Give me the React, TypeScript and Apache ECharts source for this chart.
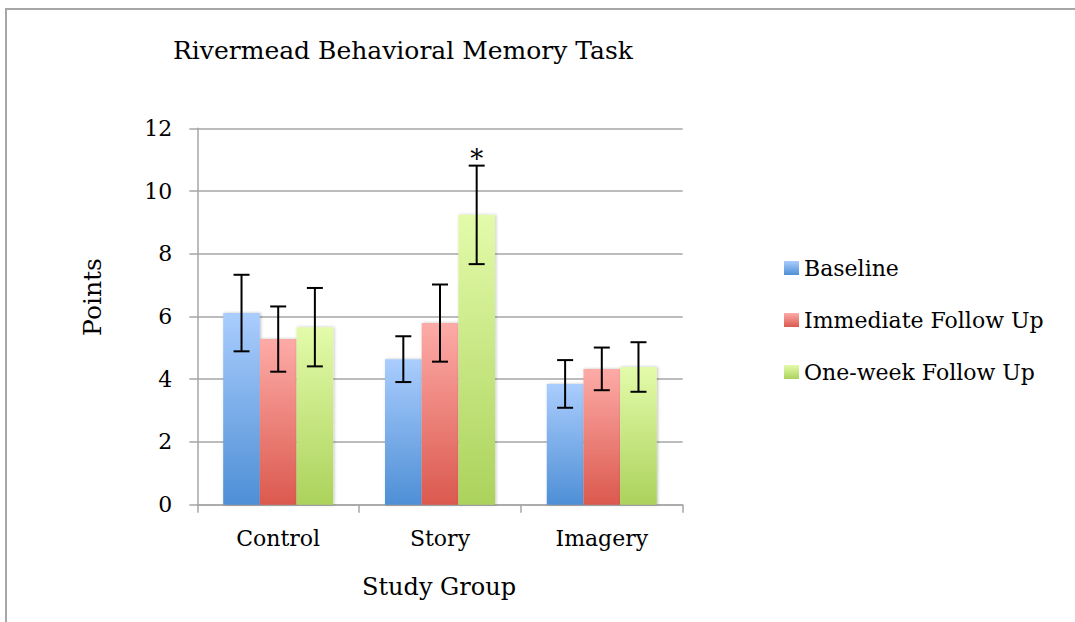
import React, { useEffect, useRef } from "react";
import * as echarts from "echarts";

const categories = ["Control", "Story", "Imagery"];
const seriesNames = ["Baseline", "Immediate Follow Up", "One-week Follow Up"];
const baseline = [6.11, 4.64, 3.85];
const immediate = [5.28, 5.79, 4.33];
const oneWeek = [5.66, 9.24, 4.39];
const baselineErr = [1.22, 0.73, 0.76];
const immediateErr = [1.04, 1.23, 0.68];
const oneWeekErr = [1.25, 1.57, 0.79];
const baselineMarks = ["", "", ""];
const immediateMarks = ["", "", ""];
const oneWeekMarks = ["", "*", ""];
const yTicks = [0, 2, 4, 6, 8, 10, 12];

const FONT = "DejaVu Serif";
const GRID_COLOR = "#a6a6a6";
const CAT_GAP = 0.32;

const gradients = [
  ["#aacdfd", "#4e8fd6"],
  ["#fdaba7", "#db594e"],
  ["#e3fbaa", "#acd25c"],
];

export default function App() {
  const ref = useRef<HTMLDivElement>(null);
  useEffect(() => {
    if (!ref.current) return;
    const chart = echarts.init(ref.current, null, { renderer: "svg" });
    const values = [baseline, immediate, oneWeek];
    const errs = [baselineErr, immediateErr, oneWeekErr];
    const marks = [baselineMarks, immediateMarks, oneWeekMarks];

    const barSeries = seriesNames.map((name, i) => ({
      type: "bar",
      name,
      data: values[i],
      barGap: "0%",
      barCategoryGap: CAT_GAP * 100 + "%",
      itemStyle: {
        color: new echarts.graphic.LinearGradient(0, 0, 0, 1, [
          { offset: 0, color: gradients[i][0] },
          { offset: 1, color: gradients[i][1] },
        ]),
        shadowBlur: 3,
        shadowColor: "rgba(0,0,0,0.25)",
        shadowOffsetX: 1,
        shadowOffsetY: 0,
      },
      z: 2,
    }));

    const errSeries = seriesNames.map((name, i) => ({
      type: "custom",
      name: name + " error",
      z: 5,
      data: values[i].map((v, k) => [k, v - errs[i][k], v + errs[i][k], marks[i][k]]),
      renderItem: (params: any, api: any) => {
        const cat = api.value(0);
        const lo = api.coord([cat, api.value(1)]);
        const hi = api.coord([cat, api.value(2)]);
        const catW = api.size([1, 0])[0];
        const barW = (catW * (1 - CAT_GAP)) / 3;
        const x = lo[0] + (i - 1) * barW;
        const cap = 8;
        const style = { stroke: "#000", lineWidth: 2 };
        const children: any[] = [
          { type: "line", shape: { x1: x, y1: lo[1], x2: x, y2: hi[1] }, style },
          { type: "line", shape: { x1: x - cap, y1: lo[1], x2: x + cap, y2: lo[1] }, style },
          { type: "line", shape: { x1: x - cap, y1: hi[1], x2: x + cap, y2: hi[1] }, style },
        ];
        const mark = marks[i][params.dataIndex];
        if (mark) {
          children.push({
            type: "text",
            x: x,
            y: hi[1] + 6,
            style: {
              text: mark,
              fontFamily: FONT,
              fontSize: 26,
              fill: "#000",
              align: "center",
              verticalAlign: "bottom",
            },
          });
        }
        return { type: "group", children };
      },
    }));

    chart.setOption({
      animation: false,
      backgroundColor: "#fff",
      title: {
        text: "Rivermead Behavioral Memory Task",
        left: 398,
        top: 33,
        textAlign: "center",
        textStyle: { fontFamily: FONT, fontSize: 25, fontWeight: "normal", color: "#000" },
      },
      legend: {
        data: seriesNames,
        orient: "vertical",
        left: 784,
        top: 257,
        padding: 0,
        itemWidth: 15,
        itemHeight: 14,
        itemGap: 30,
        icon: "rect",
        textStyle: { fontFamily: FONT, fontSize: 22, color: "#000" },
      },
      grid: { left: 197.3, right: 392.3, top: 128.3, bottom: 117.3, containLabel: false },
      xAxis: {
        type: "category",
        data: categories,
        axisLine: { show: true, lineStyle: { color: GRID_COLOR, width: 1.5 } },
        axisTick: { show: true, length: 8, lineStyle: { color: GRID_COLOR, width: 1.5 } },
        axisLabel: { fontFamily: FONT, fontSize: 22, color: "#000", margin: 23 },
      },
      yAxis: {
        type: "value",
        min: yTicks[0],
        max: yTicks[yTicks.length - 1],
        interval: 2,
        axisLine: { show: true, lineStyle: { color: GRID_COLOR, width: 1.5 } },
        axisTick: { show: true, length: 8, lineStyle: { color: GRID_COLOR, width: 1.5 } },
        splitLine: { show: true, lineStyle: { color: GRID_COLOR, width: 1.5 } },
        axisLabel: { fontFamily: FONT, fontSize: 22, color: "#000", margin: 25 },
      },
      graphic: [
        {
          type: "rect",
          shape: { x: 6, y: 9, width: 1200, height: 800 },
          style: { fill: "none", stroke: "#a6a6a6", lineWidth: 2 },
          silent: true,
          z: -1,
        },
        {
          type: "text",
          x: 92,
          y: 297,
          rotation: Math.PI / 2,
          style: {
            text: "Points",
            fontFamily: FONT,
            fontSize: 25,
            fill: "#000",
            align: "center",
            verticalAlign: "middle",
          },
        },
        {
          type: "text",
          x: 439,
          y: 587,
          style: {
            text: "Study Group",
            fontFamily: FONT,
            fontSize: 24,
            fill: "#000",
            align: "center",
            verticalAlign: "middle",
          },
        },
      ],
      series: [...barSeries, ...errSeries],
    });
    return () => chart.dispose();
  }, []);
  return (
    <div
      ref={ref}
      style={{ position: "fixed", left: 0, top: 0, width: 1075, height: 622 }}
    />
  );
}
